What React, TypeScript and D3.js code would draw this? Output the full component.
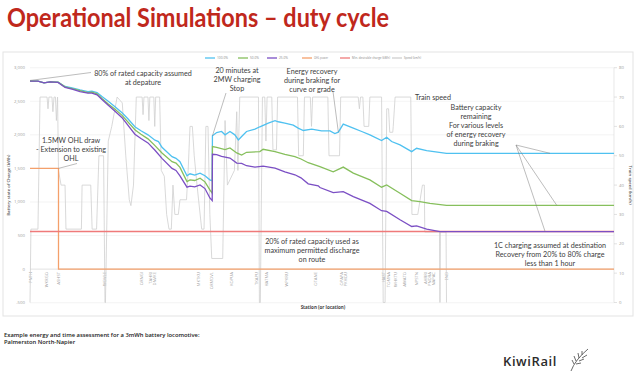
import * as d3 from 'd3';

// x axis: distance along the line (km), left axis kWh, right axis km/h
const stations: [string, number][] = [
  ['PNTH', 0], ['WKRGO', 7.1], ['ASHST', 12.2], ['WDVLE', 32.1], ['ORNGI', 47.9],
  ['TAHRI', 51.7], ['DNVKE', 53.1], ['MKTKU', 72.3], ['ORMDVL', 77.8], ['KOPUA', 86.3],
  ['TKAPU', 96.9], ['HATMA', 101.3], ['WPKRU', 109.9], ['OTANE', 122.4], ['OPAPA', 133.4],
  ['PKHOU', 135.1], ['HAST', 151.2], ['TOMNA', 153.4], ['WHKTU', 156.5], ['AWATO', 160.5],
  ['NPSTN', 165.5], ['AHRRI', 169.1], ['PNDRA', 170.9], ['NAPAC', 172.8], ['END', 178.3],
];

const recovery100: [number, number][] = [
  [0, 2800], [3.4, 2800], [6, 2775], [8.6, 2790], [12, 2785], [15, 2720], [18, 2700], [21.4, 2670],
  [24.8, 2645], [26.5, 2650], [28.7, 2630], [30.8, 2570], [33.5, 2500], [36.4, 2420], [39.4, 2330],
  [41.9, 2240], [44.9, 2120], [47.5, 2060], [50.5, 2000], [53.5, 1920], [55, 1900], [56.5, 1815],
  [60.8, 1675], [62.5, 1650], [64.2, 1600], [67.2, 1390], [68.5, 1420], [70.5, 1400], [72.8, 1430],
  [74.9, 1390], [77, 1330], [78, 1315], [78.1, 1985], [79.9, 2035], [82, 2050], [83.5, 2000],
  [85.6, 2050], [87.7, 2000], [89.2, 1925], [90.6, 1975], [92.7, 2050], [96.3, 2085], [98.4, 2120],
  [102, 2175], [104.9, 2210], [106.3, 2195], [109.1, 2175], [112.7, 2145], [114.8, 2100], [117, 2065],
  [120.6, 2085], [124.8, 2060], [128.4, 2060], [130.5, 2020], [132, 2040], [134.1, 2160], [138.4, 2100],
  [142, 2050], [145.5, 2000], [150.5, 1915], [152.7, 1965], [154.8, 1900], [158.4, 1850], [163.4, 1750],
  [165.5, 1800], [169.8, 1765], [178.3, 1725], [250, 1725],
];

const recovery50: [number, number][] = [
  [0, 2800], [3.4, 2800], [6, 2775], [8.6, 2790], [12, 2785], [15, 2715], [18, 2690], [21.4, 2660],
  [24.8, 2630], [26.5, 2635], [28.7, 2610], [30.8, 2540], [33.5, 2460], [36.4, 2380], [39.4, 2290],
  [44.9, 2075], [47.5, 2010], [50.5, 1940], [53.5, 1840], [56.5, 1730], [60.8, 1600], [62.5, 1580],
  [64.2, 1515], [67.2, 1305], [68.5, 1330], [70.5, 1320], [72.8, 1355], [74.9, 1300], [77, 1180],
  [78, 1130], [78.1, 1825], [79.9, 1815], [83.5, 1780], [85.6, 1805], [88.5, 1730], [90.6, 1700],
  [92.7, 1740], [98.4, 1750], [99.8, 1785], [104.9, 1750], [109.1, 1710], [113.4, 1675], [116, 1640],
  [119.1, 1585], [124.1, 1527], [129.8, 1450], [134.1, 1520], [138.4, 1430], [145.5, 1330],
  [150.5, 1220], [152.7, 1255], [158.4, 1130], [163.4, 1020], [166.9, 1005], [171.2, 980],
  [178.3, 950], [250, 950],
];

const recovery25: [number, number][] = [
  [0, 2800], [3.4, 2800], [6, 2775], [8.6, 2790], [12, 2780], [15, 2705], [18, 2680], [21.4, 2645],
  [24.8, 2620], [26.5, 2622], [28.7, 2595], [30.8, 2525], [33.5, 2440], [36.4, 2350], [39.4, 2255],
  [44.9, 2010], [47.5, 1945], [50.5, 1880], [53.5, 1770], [56.5, 1650], [60.8, 1500], [62.5, 1470],
  [64.2, 1390], [67.2, 1220], [68.5, 1235], [70.5, 1225], [72.8, 1255], [74.9, 1200], [77, 1060],
  [78, 1020], [78.1, 1710], [79.9, 1705], [82, 1680], [85.6, 1655], [88.5, 1580], [90.6, 1575],
  [92.7, 1540], [96.3, 1520], [99.8, 1535], [104.9, 1505], [109.1, 1450], [113.4, 1405], [116, 1360],
  [119.1, 1270], [123.4, 1240], [124.1, 1215], [129.8, 1140], [134.1, 1155], [138.4, 1080],
  [145.5, 980], [150.5, 870], [152.7, 860], [158.4, 735], [163.4, 635], [165.5, 645], [169.8, 595],
  [175.5, 560], [250, 560],
];

const ohlPower: [number, number][] = [[0, 1500], [12.2, 1500], [12.2, 0], [250, 0]];
const minCharge: [number, number][] = [[0, 560], [250, 560]];

const speed: [number, number][] = [
  [0, 0], [0.4, 25], [3.4, 25], [4.3, 70], [7.3, 70], [7.7, 66], [8.1, 70], [9.4, 70], [9.8, 65],
  [10.3, 70], [10.9, 70], [11.3, 62], [11.8, 70], [12.2, 45], [13.3, 40], [15, 40], [15.4, 25],
  [22, 25], [22.3, 40], [26, 40], [26.6, 25], [28.5, 25], [29.5, 50], [31.5, 50], [32.1, 0],
  [32.3, 0], [33.5, 55], [35, 60], [37.3, 70], [39.5, 68], [41, 50], [42.5, 35], [43.2, 33],
  [44.3, 40], [45.5, 70], [48, 70], [48.4, 64], [48.8, 70], [50.5, 70], [50.9, 62], [51.3, 70],
  [53, 70], [53.4, 60], [53.8, 70], [55.5, 70], [56.2, 45], [57.5, 43], [58.5, 30], [59.5, 25],
  [60.5, 25], [61.2, 40], [62, 30], [63.5, 30], [64.2, 35], [67, 35], [67.7, 45], [68.5, 60],
  [69.5, 60], [70.3, 50], [71.5, 40], [73.5, 25], [74.5, 25], [75.3, 60], [76.2, 60], [77, 30],
  [77.8, 15], [82.5, 15], [83.5, 62], [84.5, 40], [87.5, 45], [88.5, 65], [89, 45], [89.8, 70],
  [97.8, 70], [98.2, 0], [98.6, 0], [99.5, 70], [100.5, 70], [101, 55], [101.5, 70], [103.5, 70],
  [104, 52], [105.5, 52], [106, 70], [114.5, 70], [115, 50], [117, 50], [117.5, 70], [120, 70],
  [120.5, 60], [121, 70], [127.5, 70], [128, 50], [132.5, 50], [133, 70], [140.5, 70], [141, 66],
  [141.5, 70], [142.5, 70], [143, 60], [145, 60], [145.5, 70], [150.5, 70], [151.2, 0], [152, 0],
  [152.7, 66], [153.5, 66], [154, 58], [155.3, 58], [155.5, 60], [156.3, 70], [163, 70],
  [163.5, 30], [166, 30], [168, 40], [168.8, 40], [169, 24], [175.3, 24], [175.5, 0], [175.7, 24],
  [178.1, 24], [178.3, 0],
];

const energyTicks = [3000, 2500, 2000, 1500, 1000, 500, 0, -500];
const speedTicks = [80, 70, 60, 50, 40, 30, 20, 10, 0];

const legendItems = [
  { label: '100.0%', color: '#4fc1f0' },
  { label: '50.0%', color: '#86bf5c' },
  { label: '25.0%', color: '#7b4fc4' },
  { label: 'OHL power', color: '#f4a06b' },
  { label: 'Min. desirable charge (kWh)', color: '#ef7a7a' },
  { label: 'Speed (km/h)', color: '#cfcfcf' },
];

const W = 640;
const H = 373;
const annFont = 'Lato, "Open Sans", sans-serif';
const uiFont = '"Open Sans", sans-serif';

export default function App() {
  const x = d3.scaleLinear().domain([0, 250]).range([30, 614]);
  const yE = d3.scaleLinear().domain([-500, 3000]).range([302.7, 67.7]);
  const yS = d3.scaleLinear().domain([0, 80]).range([302.5, 67.7]);

  const lineE = d3.line<[number, number]>().x((d) => x(d[0])).y((d) => yE(d[1]));
  const lineS = d3.line<[number, number]>().x((d) => x(d[0])).y((d) => yS(d[1]));

  // legend slots: line start and label width
  const legendX = [205, 238, 267, 302, 340, 392];
  const legendW = [11, 9, 9, 14, 38, 17];

  const ann = (lines: string[], cx: number, y0: number, anchor = 'middle') =>
    lines.map((t, i) => (
      <text key={t} x={cx} y={y0 + i * 9} textAnchor={anchor} fontSize={7.2} fill="#404040" fontFamily={annFont}>
        {t}
      </text>
    ));

  return (
    <svg width={W} height={H} style={{ position: 'absolute', left: 0, top: 0, background: '#fff' }}>
      {/* title */}
      <text x={7} y={27} fontSize={27} fontWeight={700} fill="#c0281c" fontFamily="Lato, sans-serif"
        textLength={382} lengthAdjust="spacingAndGlyphs">
        Operational Simulations – duty cycle
      </text>

      {/* chart frame */}
      <rect x={3} y={52} width={630} height={264} fill="#fff" stroke="#e3e3e3" strokeWidth={1} />

      {/* legend */}
      {legendItems.map((d, i) => (
        <g key={d.label}>
          <line x1={legendX[i]} x2={legendX[i] + 10} y1={58} y2={58} stroke={d.color} strokeWidth={1.3} />
          <text x={legendX[i] + 12} y={59.3} fontSize={3.6} fill="#8a8a8a" fontFamily={uiFont}
            textLength={legendW[i]} lengthAdjust="spacingAndGlyphs">{d.label}</text>
        </g>
      ))}

      {/* grid + left axis */}
      {energyTicks.map((t) => (
        <g key={t}>
          <line x1={x(0)} x2={x(250)} y1={yE(t)} y2={yE(t)} stroke={t === 0 ? '#cfcfcf' : '#ececec'} strokeWidth={0.6} />
          <text x={25} y={yE(t) + 1.5} textAnchor="end" fontSize={4.3} fill="#9a9a9a" fontFamily={uiFont}>
            {t.toLocaleString('en-US')}
          </text>
        </g>
      ))}
      <text transform={`translate(10,${yE(1250)}) rotate(-90)`} textAnchor="middle" fontSize={4.3} fill="#555"
        fontWeight={600} fontFamily={uiFont}>
        Battery state of Charge (kWh)
      </text>

      {/* right axis */}
      <line x1={x(250)} x2={x(250)} y1={yS(80)} y2={yS(0)} stroke="#d9d9d9" strokeWidth={0.6} />
      {speedTicks.map((t) => (
        <g key={t}>
          <line x1={x(250)} x2={x(250) + 3} y1={yS(t)} y2={yS(t)} stroke="#cfcfcf" strokeWidth={0.6} />
          <text x={619} y={yS(t) + 1.5} fontSize={4.3} fill="#9a9a9a" fontFamily={uiFont}>{t}</text>
        </g>
      ))}
      <text transform={`translate(629,${yS(40)}) rotate(90)`} textAnchor="middle" fontSize={4.3} fill="#555"
        fontWeight={600} fontFamily={uiFont}>
        Train speed (km/h)
      </text>

      {/* station labels */}
      {stations.map(([name, km]) => (
        <text key={name} transform={`translate(${x(km) + 1.5},272) rotate(-90)`} textAnchor="end" fontSize={4.2}
          fill="#a0a0a0" fontFamily={uiFont}>
          {name}
        </text>
      ))}
      <text x={323} y={308.5} textAnchor="middle" fontSize={4.5} fontWeight={700} fill="#444" fontFamily={uiFont}>
        Station (or location)
      </text>

      {/* series */}
      <path d={lineS(speed) ?? ''} fill="none" stroke="#cfcfcf" strokeWidth={0.8} />
      <path d={lineE(ohlPower) ?? ''} fill="none" stroke="#f4a06b" strokeWidth={1.3} />
      <path d={lineE(minCharge) ?? ''} fill="none" stroke="#ef7a7a" strokeWidth={1.6} />
      <path d={lineE(recovery100) ?? ''} fill="none" stroke="#4fc1f0" strokeWidth={1.3} />
      <path d={lineE(recovery50) ?? ''} fill="none" stroke="#86bf5c" strokeWidth={1.3} />
      <path d={lineE(recovery25) ?? ''} fill="none" stroke="#7b4fc4" strokeWidth={1.3} />

      {/* annotations */}
      <g stroke="#7a7a7a" strokeWidth={0.5}>
        <line x1={91} y1={72.5} x2={x(0)} y2={yE(2810)} />
        <line x1={77} y1={163.5} x2={x(12.2)} y2={yE(1500)} />
        <line x1={226} y1={93} x2={x(78.1)} y2={yE(1985)} />
        <line x1={333} y1={91.5} x2={x(132)} y2={yE(2040)} />
        <line x1={516} y1={145} x2={x(222.6)} y2={yE(1725)} />
        <line x1={516} y1={145} x2={x(225.5)} y2={yE(950)} />
        <line x1={516} y1={145} x2={x(220.5)} y2={yE(560)} />
      </g>
      {ann(['80% of rated capacity assumed', 'at depature'], 143, 76)}
      {ann(['1.5MW OHL draw', '- Extension to existing', 'OHL'], 71, 143)}
      {ann(['20 minutes at', '2MW charging', 'Stop'], 237, 73)}
      {ann(['Energy recovery', 'during braking for', 'curve or grade'], 312, 74)}
      {ann(['Train speed'], 415, 99.5, 'start')}
      {ann(['Battery capacity', 'remaining', 'For various levels', 'of energy recovery', 'during braking'], 476, 109.5)}
      {ann(['20% of rated capacity used as', 'maximum permitted discharge', 'on route'], 312, 244)}
      {ann(['1C charging assumed at destination', 'Recovery from 20% to 80% charge', 'less than 1 hour'], 550, 247.5)}

      {/* footer */}
      <text x={4} y={336.5} fontSize={5.8} fontWeight={600} fill="#222" fontFamily={uiFont}>
        Example energy and time assessment for a 3mWh battery locomotive:
      </text>
      <text x={4} y={344} fontSize={5.8} fontWeight={600} fill="#222" fontFamily={uiFont}>
        Palmerston North-Napier
      </text>

      {/* logo */}
      <text x={503} y={366} fontSize={13} fontWeight={600} fill="#2b2b2b" fontFamily={uiFont} letterSpacing={0.6}>
        KiwiRail
      </text>
      <g stroke="#444" strokeWidth={0.8} fill="none">
        <path d="M571,371 Q575,360 588,349" />
        <path d="M574,364 L572,360 M576,361 L574,356 M579,358 L578,353 M582,355 L582,351 M576,364 L581,363 M579,361 L584,359 M582,358 L587,355" />
      </g>
    </svg>
  );
}
